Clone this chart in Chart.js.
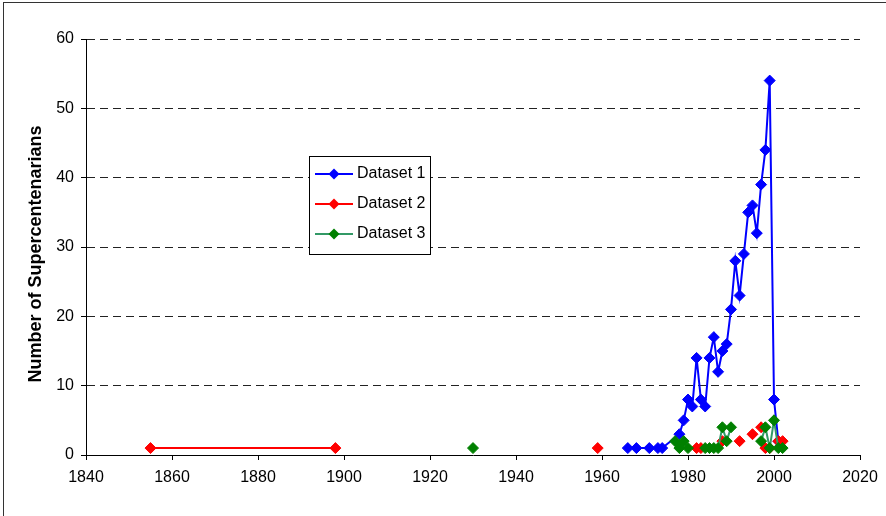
<!DOCTYPE html>
<html>
<head>
<meta charset="utf-8">
<title>Supercentenarians</title>
<script src="https://cdn.jsdelivr.net/npm/chart.js@4/dist/chart.umd.min.js"></script>
<style>
  body { margin: 0; background: #fff; }
  #wrap { position: relative; width: 886px; height: 516px; overflow: hidden; }
  #frame { position: absolute; left: 3px; top: 2px; width: 900px; height: 600px; border: 1px solid #333; }
  #myChart { position: absolute; left: 0; top: 0; }
</style>
</head>
<body>
<div id="wrap">
  <div id="frame"></div>
  <canvas id="myChart" width="886" height="516"></canvas>
</div>
<script>
// values, null = break in the line
var years1 = [1966, 1968, 1971, 1973, 1974, 1978, 1979, 1980, 1981, 1982, 1983, 1984, 1985, 1986, 1987,
              1988, 1989, 1990, 1991, 1992, 1993, 1994, 1995, 1996, 1997, 1998, 1999, 2000, 2001]
var counts1 = [1, 1, 1, 1, 1, 3, 5, 8, 7, 14, 8, 7, 14, 17, 12,
               15, 16, 21, 28, 23, 29, 35, 36, 32, 39, 44, 54, 8, 2]

var years2 = [1855, 1898, null, 1959, null, 1982, null, 1983, null, 1988, null, 1992, null, 1995, null,
              1997, null, 1998, null, 1999, null, 2001, null, 2002]
var counts2 = [1, 1, null, 1, null, 1, null, 1, null, 2, null, 2, null, 3, null,
               4, null, 1, null, 1, null, 2, null, 2]

var years3 = [1930, null, 1977, 1978, 1979, 1980, null, 1984, 1985, 1986, 1987, 1988, 1989, 1990, null,
              1997, 1998, 1999, 2000, 2001, 2002]
var counts3 = [1, null, 2, 1, 2, 1, null, 1, 1, 1, 1, 4, 2, 4, null,
               2, 4, 1, 5, 1, 1]

var names = ["Dataset 1", "Dataset 2", "Dataset 3"]
var yTitle = "Number of Supercentenarians"
var xTicks = [1840, 2020, 20]
var yTicks = [0, 60, 10]

function toPoints(xs, ys){
  var pts = []
  for (var i = 0; i < xs.length; i++) pts.push({x: xs[i], y: ys[i]})
  return pts
}

function diamond(ctx, x, y, r){
  ctx.beginPath()
  ctx.moveTo(x, y - r)
  ctx.lineTo(x + r, y)
  ctx.lineTo(x, y + r)
  ctx.lineTo(x - r, y)
  ctx.closePath()
  ctx.fill()
}

// legend box sitting inside the plot + the axis title, like the Excel one
var boxLegend = {
  id: 'boxLegend',
  afterDraw: function(chart){
    var ctx = chart.ctx
    ctx.save()
    ctx.fillStyle = '#fff'
    ctx.fillRect(309, 156, 121, 98)
    ctx.strokeStyle = '#000'
    ctx.lineWidth = 1
    ctx.strokeRect(309.5, 156.5, 121, 98)
    chart.data.datasets.forEach(function(ds, i){
      var y = 174 + i * 30
      ctx.strokeStyle = ds.borderColor
      ctx.lineWidth = 2
      ctx.beginPath()
      ctx.moveTo(315, y)
      ctx.lineTo(353, y)
      ctx.stroke()
      ctx.fillStyle = ds.pointBackgroundColor
      diamond(ctx, 334, y, 5.5)
      ctx.fillStyle = '#000'
      ctx.font = '16px "Liberation Sans", Arial, sans-serif'
      ctx.textBaseline = 'middle'
      ctx.fillText(ds.label, 357, y)
    })

    ctx.translate(36, 254)
    ctx.rotate(-Math.PI / 2)
    ctx.font = 'bold 18px "Liberation Sans", Arial, sans-serif'
    ctx.textAlign = 'center'
    ctx.textBaseline = 'middle'
    ctx.fillStyle = '#000'
    ctx.fillText(yTitle, 0, 0)
    ctx.restore()
  }
}

var tickFont = {family: '"Liberation Sans", Arial, sans-serif', size: 16}

var chart = new Chart(document.getElementById("myChart").getContext('2d'), {
  type: 'line',
  data: {
    datasets: [{
      label: names[0],
      data: toPoints(years1, counts1),
      borderColor: '#0000ff',
      pointBackgroundColor: '#0000ff',
      pointBorderColor: '#0000ff',
      order: 3
    }, {
      label: names[1],
      data: toPoints(years2, counts2),
      borderColor: '#ff0000',
      pointBackgroundColor: '#ff0000',
      pointBorderColor: '#ff0000',
      order: 2
    }, {
      label: names[2],
      data: toPoints(years3, counts3),
      borderColor: '#339966',
      pointBackgroundColor: '#008000',
      pointBorderColor: '#008000',
      order: 1
    }]
  },
  options: {
    responsive: false,
    animation: false,
    spanGaps: false,
    layout: {padding: {left: 0, top: 39, right: 26, bottom: 0}},
    elements: {
      line: {borderWidth: 2, tension: 0},
      point: {pointStyle: 'rectRot', radius: 5.5, borderWidth: 1, hoverRadius: 5.5}
    },
    plugins: {legend: {display: false}, tooltip: {enabled: false}},
    scales: {
      x: {
        type: 'linear',
        min: xTicks[0], max: xTicks[1],
        ticks: {stepSize: xTicks[2], color: '#000', font: tickFont, padding: 8, maxRotation: 0,
                callback: function(v){ return String(v) }},
        grid: {drawOnChartArea: false, drawTicks: true, tickLength: 5, color: '#000'},
        border: {color: '#000', width: 1},
        afterFit: function(s){ s.height = 61 }
      },
      y: {
        min: yTicks[0], max: yTicks[1],
        ticks: {stepSize: yTicks[2], color: '#000', font: tickFont, padding: 7},
        grid: {color: '#222', tickLength: 5, tickColor: '#000', tickBorderDash: []},
        border: {color: '#000', width: 1, dash: [8, 5]},
        afterFit: function(s){ s.width = 86 }
      }
    }
  },
  plugins: [boxLegend]
})
</script>
</body>
</html>
